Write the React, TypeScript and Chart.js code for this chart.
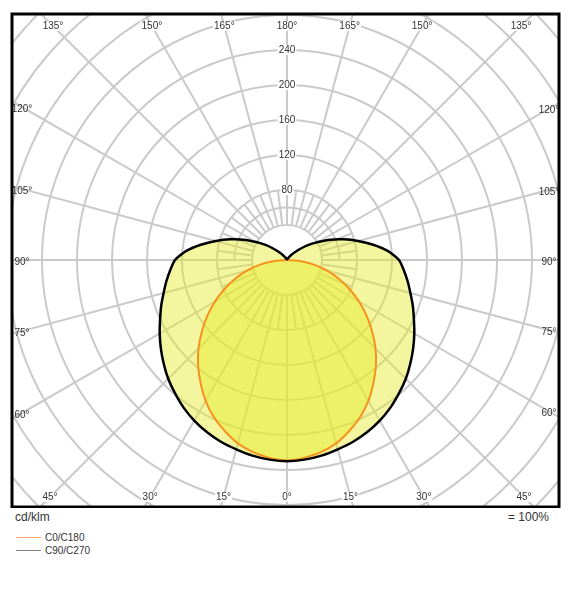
import React, { useEffect, useRef } from 'react';
import { Chart, registerables } from 'chart.js';

Chart.register(...registerables);

// Gamma angles (deg, 0 = straight down)
const GAMMA = [0, 5, 10, 15, 20, 25, 30, 35, 40, 45, 50, 55, 60, 65, 70, 75, 80, 85, 90,
  95, 100, 105, 110, 115, 120, 125, 130, 135, 140, 145, 150, 155, 160, 165, 170, 175, 180];

// Luminous intensity in cd/klm
const C0_C180 = [229, 227, 223, 217, 208, 198, 186, 172, 158, 143, 127, 111, 95, 79, 63, 48, 32, 16, 0,
  0, 0, 0, 0, 0, 0, 0, 0, 0, 0, 0, 0, 0, 0, 0, 0, 0, 0];
const C90_C270 = [230, 229, 227, 224, 221, 217, 212, 206, 199, 192, 184, 176, 168, 160, 153, 146, 140, 134, 128,
  116, 100, 84, 69, 55, 41, 30, 20, 12, 7, 4, 2, 1, 1, 1, 0, 0, 0];

const RINGS = [40, 80, 120, 160, 200, 240, 280, 320, 360, 400, 440, 480];
const RING_LABELS = [80, 120, 160, 200, 240];
const ANGLE_TICKS = [0, 15, 30, 45, 60, 75, 90, 105, 120, 135, 150, 165, 180];

const FONT = '"Liberation Sans", Arial, Helvetica, sans-serif';
const FILL = 'rgba(228,236,40,0.45)';
const GRID = 'rgb(202,202,202)';

function toPoints(vals: number[]) {
  const pts: { x: number; y: number }[] = [];
  for (let i = GAMMA.length - 1; i >= 0; i--) {
    const g = (GAMMA[i] * Math.PI) / 180;
    pts.push({ x: -vals[i] * Math.sin(g), y: -vals[i] * Math.cos(g) });
  }
  for (let i = 1; i < GAMMA.length; i++) {
    const g = (GAMMA[i] * Math.PI) / 180;
    pts.push({ x: vals[i] * Math.sin(g), y: -vals[i] * Math.cos(g) });
  }
  return pts;
}

const gridPlugin = {
  id: 'polarGrid',
  beforeDraw(chart: any) {
    const { ctx, chartArea: a, scales } = chart;
    const sx = scales.x, sy = scales.y;
    const cx = sx.getPixelForValue(0), cy = sy.getPixelForValue(0);
    const k = (sx.getPixelForValue(100) - cx) / 100;
    ctx.save();
    ctx.beginPath();
    ctx.rect(a.left, a.top, a.width, a.height);
    ctx.clip();
    ctx.strokeStyle = GRID;
    ctx.lineWidth = 2;
    for (const r of RINGS) {
      ctx.beginPath();
      ctx.arc(cx, cy, r * k, 0, Math.PI * 2);
      ctx.stroke();
    }
    ctx.beginPath();
    ctx.arc(cx, cy, 60 * k, Math.PI, Math.PI * 2);
    ctx.stroke();
    for (let g = 0; g < 360; g += 7.5) {
      const rad = (g * Math.PI) / 180;
      const dx = Math.sin(rad), dy = Math.cos(rad);
      const r0 = 40 * k;
      const r1 = g % 15 === 0 ? 2000 : 80 * k;
      ctx.beginPath();
      ctx.moveTo(cx + dx * r0, cy + dy * r0);
      ctx.lineTo(cx + dx * r1, cy + dy * r1);
      ctx.stroke();
    }
    ctx.restore();
  },
  afterDraw(chart: any) {
    const { ctx, chartArea: a, scales } = chart;
    const sx = scales.x, sy = scales.y;
    const cx = sx.getPixelForValue(0), cy = sy.getPixelForValue(0);
    const k = (sx.getPixelForValue(100) - cx) / 100;
    ctx.save();
    ctx.beginPath();
    ctx.rect(a.left, a.top, a.width, a.height);
    ctx.clip();
    ctx.font = `10px ${FONT}`;
    ctx.textAlign = 'center';
    ctx.textBaseline = 'middle';
    const label = (t: string, px: number, py: number, bg: boolean) => {
      if (bg) {
        const w = ctx.measureText(t).width;
        ctx.fillStyle = '#fff';
        ctx.fillRect(px - w / 2 - 1, py - 5, w + 2, 10);
      }
      ctx.fillStyle = '#333';
      ctx.fillText(t, px, py);
    };
    for (const v of RING_LABELS) label(String(v), cx, cy - v * k, true);
    for (const g of ANGLE_TICKS) {
      const sides = g === 0 || g === 180 ? [1] : [-1, 1];
      for (const s of sides) {
        const rad = (g * Math.PI) / 180;
        const dx = s * Math.sin(rad), dy = Math.cos(rad);
        let t = Infinity;
        let side = false;
        if (dy > 1e-6) t = (a.bottom - 10 - cy) / dy;
        if (dy < -1e-6) t = (a.top + 12 - cy) / dy;
        if (Math.abs(dx) > 1e-6) {
          const t2 = dx > 0 ? (a.right - 10 - cx) / dx : (a.left + 10 - cx) / dx;
          if (t2 < t) { t = t2; side = true; }
        }
        let px = cx + dx * t, py = cy + dy * t;
        if (side) py += 2;
        label(`${g}°`, px, py, !side);
      }
    }
    ctx.restore();
    ctx.save();
    ctx.strokeStyle = '#000';
    ctx.lineWidth = 3;
    ctx.strokeRect(a.left, a.top, a.width, a.height);
    ctx.restore();
  },
};

// layout constants (canvas px)
const CW = 556, CH = 500;
const PAD = { left: 4, top: 6, right: 5, bottom: 1 };
const CENTER = { x: 279, y: 252 };
const PX_PER_UNIT = 0.875;

export default function App() {
  const ref = useRef<HTMLCanvasElement | null>(null);
  useEffect(() => {
    if (!ref.current) return;
    const left = PAD.left, right = CW - PAD.right, top = PAD.top, bottom = CH - PAD.bottom;
    const chart = new Chart(ref.current, {
      type: 'scatter',
      data: {
        datasets: [
          {
            label: 'C90/C270',
            data: toPoints(C90_C270),
            showLine: true,
            borderColor: '#000',
            borderWidth: 2.5,
            backgroundColor: FILL,
            fill: 'shape',
            pointRadius: 0,
            tension: 0.2,
            order: 0,
          } as any,
          {
            label: 'C0/C180',
            data: toPoints(C0_C180),
            showLine: true,
            borderColor: 'rgb(247,145,30)',
            borderWidth: 2,
            backgroundColor: FILL,
            fill: 'shape',
            pointRadius: 0,
            tension: 0.2,
            order: 1,
          } as any,
        ],
      },
      options: {
        animation: false,
        responsive: false,
        maintainAspectRatio: false,
        events: [],
        layout: { padding: PAD },
        scales: {
          x: { type: 'linear', display: false, min: -(CENTER.x - left) / PX_PER_UNIT, max: (right - CENTER.x) / PX_PER_UNIT },
          y: { type: 'linear', display: false, min: -(bottom - CENTER.y) / PX_PER_UNIT, max: (CENTER.y - top) / PX_PER_UNIT },
        },
        plugins: {
          legend: { display: false },
          tooltip: { enabled: false },
          filler: { drawTime: 'beforeDatasetsDraw' },
        } as any,
      },
      plugins: [gridPlugin],
    });
    return () => chart.destroy();
  }, []);

  const txt: React.CSSProperties = { position: 'absolute', fontFamily: FONT, color: '#333', whiteSpace: 'nowrap' };
  return (
    <div style={{ position: 'relative', width: CW, height: 576 }}>
      <canvas ref={ref} width={CW} height={CH} style={{ display: 'block' }} />
      <div style={{ ...txt, left: 7, top: 502, fontSize: 12, lineHeight: '14px' }}>cd/klm</div>
      <div style={{ ...txt, right: 15, top: 502, fontSize: 12, lineHeight: '14px' }}>= 100%</div>
      <div style={{ position: 'absolute', left: 8, top: 529, width: 25, height: 1, background: 'rgb(250,165,105)' }} />
      <div style={{ ...txt, left: 37, top: 523, fontSize: 10, lineHeight: '14px' }}>C0/C180</div>
      <div style={{ position: 'absolute', left: 8, top: 542, width: 25, height: 1, background: 'rgb(130,130,130)' }} />
      <div style={{ ...txt, left: 37, top: 536, fontSize: 10, lineHeight: '14px' }}>C90/C270</div>
    </div>
  );
}
